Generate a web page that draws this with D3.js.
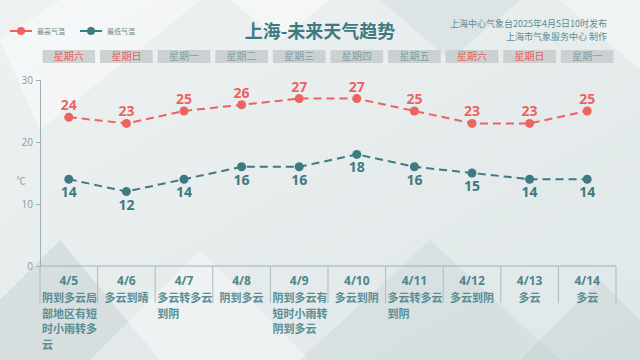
<!DOCTYPE html>
<html>
<head>
<meta charset="utf-8">
<script src="https://cdn.jsdelivr.net/npm/d3@7/dist/d3.min.js"></script>
<style>
  body { margin: 0; }
  svg { display: block; font-family: "Noto Sans CJK SC", "Noto Sans", sans-serif; }
</style>
</head>
<body>
<svg id="chart" width="640" height="360"></svg>
<script>
const dates = ['4/5', '4/6', '4/7', '4/8', '4/9', '4/10', '4/11', '4/12', '4/13', '4/14'];
const weekdays = ['星期六', '星期日', '星期一', '星期二', '星期三', '星期四', '星期五', '星期六', '星期日', '星期一'];
const weather = ['阴到多云局部地区有短时小雨转多云', '多云到晴', '多云转多云到阴', '阴到多云',
  '阴到多云有短时小雨转阴到多云', '多云到阴', '多云转多云到阴', '多云到阴', '多云', '多云'];
const highs = [24, 23, 25, 26, 27, 27, 25, 23, 23, 25];
const lows = [14, 12, 14, 16, 16, 18, 16, 15, 14, 14];
const yTicks = [0, 10, 20, 30];

const RED = '#ee625f';
const TEAL = '#3e7a82';
const GREY = '#7f9ea3';

const svg = d3.select('#chart');

// background
const defs = svg.append('defs');
const bg = defs.append('linearGradient').attr('id', 'bg')
    .attr('x1', 0).attr('y1', 0).attr('x2', 1).attr('y2', 1);
bg.append('stop').attr('offset', 0).attr('stop-color', '#eef1f1');
bg.append('stop').attr('offset', 1).attr('stop-color', '#dfe7e8');
svg.append('rect').attr('width', 640).attr('height', 360).attr('fill', 'url(#bg)');

const shapes = [
  {pts: [[0, 40], [60, 0], [200, 0], [40, 130]], fill: '#ffffff', op: 0.45},
  {pts: [[230, 0], [330, 0], [280, 40]], fill: '#ffffff', op: 0.5},
  {pts: [[380, 0], [520, 0], [450, 60]], fill: '#c9d5d7', op: 0.35},
  {pts: [[560, 0], [640, 0], [640, 70]], fill: '#ffffff', op: 0.4},
  {pts: [[0, 300], [60, 240], [160, 360], [0, 360]], fill: '#b8c6c8', op: 0.35},
  {pts: [[90, 360], [200, 250], [310, 360]], fill: '#ffffff', op: 0.35},
  {pts: [[300, 360], [430, 240], [560, 360]], fill: '#c3d0d2', op: 0.35},
  {pts: [[520, 360], [600, 280], [640, 320], [640, 360]], fill: '#b9c7c9', op: 0.3}
];
svg.append('g').selectAll('polygon').data(shapes).join('polygon')
    .attr('points', d => d.pts.join(' '))
    .attr('fill', d => d.fill)
    .attr('opacity', d => d.op);

// scales
const x = d3.scaleBand().domain(dates).range([40, 616]);
const y = d3.scaleLinear().domain([0, 30]).range([266, 80]);
const cx = d => x(d) + x.bandwidth() / 2;

// title + legend
svg.append('text').attr('x', 320).attr('y', 38).attr('text-anchor', 'middle')
    .attr('font-size', 18).attr('font-weight', 'bold').attr('fill', TEAL)
    .text('上海-未来天气趋势');

svg.append('text').attr('x', 607).attr('y', 27).attr('text-anchor', 'end')
    .attr('font-size', 9).attr('fill', '#5f8c93')
    .text('上海中心气象台2025年4月5日10时发布');
svg.append('text').attr('x', 607).attr('y', 40).attr('text-anchor', 'end')
    .attr('font-size', 9).attr('fill', '#5f8c93')
    .text('上海市气象服务中心 制作');

const legend = [{name: '最高气温', color: RED, x: 10}, {name: '最低气温', color: TEAL, x: 80}];
const lg = svg.append('g').selectAll('g').data(legend).join('g')
    .attr('transform', d => `translate(${d.x},31)`);
lg.append('line').attr('x1', 0).attr('x2', 22).attr('stroke', d => d.color).attr('stroke-width', 2);
lg.append('circle').attr('cx', 11).attr('r', 4).attr('fill', d => d.color);
lg.append('text').attr('x', 27).attr('y', 3).attr('font-size', 7).attr('fill', '#6f8d92')
    .text(d => d.name);

// weekday boxes
const wk = svg.append('g').selectAll('g').data(dates).join('g');
wk.append('rect')
    .attr('x', d => x(d) + 2.5).attr('y', 50)
    .attr('width', x.bandwidth() - 5).attr('height', 13)
    .attr('fill', '#c5cbcd').attr('opacity', 0.85);
wk.append('text')
    .attr('x', cx).attr('y', 60).attr('text-anchor', 'middle').attr('font-size', 10)
    .attr('fill', (d, i) => /[六日]/.test(weekdays[i]) ? '#e8605d' : GREY)
    .text((d, i) => weekdays[i]);

// y axis
const axis = svg.append('g').attr('transform', 'translate(40,0)')
    .call(d3.axisLeft(y).tickValues(yTicks).tickSize(4));
axis.select('.domain').attr('stroke', '#9db1b4');
axis.selectAll('.tick line').attr('stroke', '#9db1b4');
axis.selectAll('.tick text').attr('fill', GREY).attr('font-size', 10)
    .attr('font-family', '"Open Sans", sans-serif');
svg.append('text').attr('x', 21).attr('y', 184).attr('text-anchor', 'middle')
    .attr('font-size', 9).attr('fill', GREY).text('℃');

// bottom table
svg.append('line').attr('x1', 40).attr('x2', 616).attr('y1', y(0)).attr('y2', y(0))
    .attr('stroke', '#9db1b4');
svg.append('g').selectAll('line').data(dates.concat(['end'])).join('line')
    .attr('x1', (d, i) => 40 + i * x.bandwidth())
    .attr('x2', (d, i) => 40 + i * x.bandwidth())
    .attr('y1', y(0)).attr('y2', 303)
    .attr('stroke', '#a9bbbe');

svg.append('g').selectAll('text').data(dates).join('text')
    .attr('x', cx).attr('y', 285).attr('text-anchor', 'middle')
    .attr('font-size', 12).attr('font-weight', 'bold').attr('fill', '#4f858c')
    .attr('font-family', '"Open Sans", sans-serif')
    .text(d => d);

dates.forEach((d, i) => {
  const txt = weather[i];
  const lines = [];
  for (let k = 0; k < txt.length; k += 5) lines.push(txt.slice(k, k + 5));
  const single = lines.length === 1;
  svg.append('g').selectAll('text').data(lines).join('text')
      .attr('x', single ? cx(d) : x(d) + 2)
      .attr('y', (l, j) => 302 + j * 15.5)
      .attr('text-anchor', single ? 'middle' : 'start')
      .attr('font-size', 11).attr('font-weight', 'bold').attr('fill', '#5a8d94')
      .text(l => l);
});

// series
const series = [
  {values: highs, color: RED, dy: -7},
  {values: lows, color: TEAL, dy: 18}
];
const line = d3.line().x((v, i) => cx(dates[i])).y(v => y(v));
series.forEach(s => {
  const g = svg.append('g');
  g.append('path').attr('d', line(s.values)).attr('fill', 'none')
      .attr('stroke', s.color).attr('stroke-width', 2).attr('stroke-dasharray', '8,5');
  g.selectAll('circle').data(s.values).join('circle')
      .attr('cx', (v, i) => cx(dates[i])).attr('cy', v => y(v)).attr('r', 4.5)
      .attr('fill', s.color);
  g.selectAll('text').data(s.values).join('text')
      .attr('x', (v, i) => cx(dates[i])).attr('y', v => y(v) + s.dy)
      .attr('text-anchor', 'middle').attr('font-size', 14).attr('font-weight', 'bold')
      .attr('font-family', '"Open Sans", sans-serif')
      .attr('fill', s.color).text(v => v);
});
</script>
</body>
</html>
